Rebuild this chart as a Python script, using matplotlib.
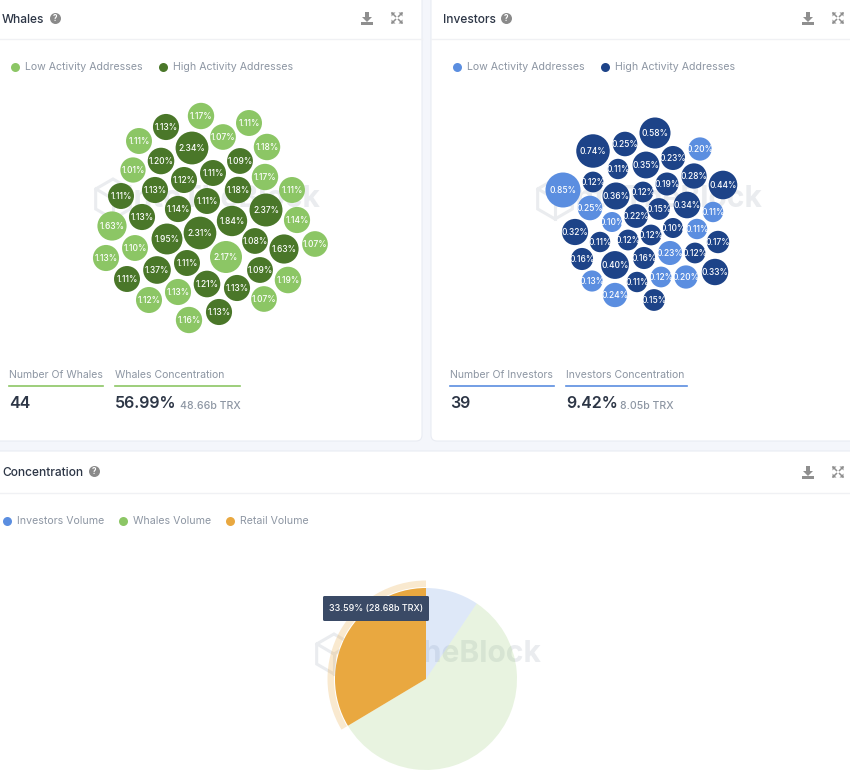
import matplotlib
matplotlib.use('Agg')
import matplotlib.pyplot as plt
import numpy as np
from matplotlib.patches import FancyBboxPatch, Wedge, Rectangle, Polygon

plt.rcParams['font.family'] = ['Inter', 'DejaVu Sans']

whale_vals = [1.17, 1.11, 1.13, 1.11, 1.07, 2.34, 1.18, 1.20, 1.09, 1.01, 1.11,
              1.12, 1.17, 1.13, 1.18, 1.11, 1.11, 1.11, 1.14, 2.37, 1.13, 1.84,
              1.14, 1.63, 2.31, 1.95, 1.08, 1.07, 1.63, 1.10, 2.17, 1.13, 1.11,
              1.37, 1.09, 1.19, 1.11, 1.21, 1.13, 1.13, 1.12, 1.07, 1.13, 1.16]
whale_high = [0, 0, 1, 0, 0, 1, 0, 1, 1, 0, 1,
              1, 0, 1, 1, 0, 1, 1, 1, 1, 1, 1,
              0, 0, 1, 1, 1, 0, 1, 0, 0, 0, 1,
              1, 1, 0, 1, 1, 0, 1, 0, 0, 1, 0]
whale_x = [201, 249, 166, 139, 223, 192, 267, 161, 240, 133, 213,
           184, 265, 155, 238, 292, 121, 207, 178, 266, 142, 232,
           297, 112, 200, 167, 255, 315, 284, 135, 226, 106, 187,
           157, 260, 288, 127, 207, 178, 237, 149, 264, 219, 189]
whale_y = [116, 123, 127, 141, 137, 148, 147, 161, 161, 170, 173,
           180, 177, 190, 190, 190, 196, 201, 209, 210, 217, 221,
           220, 226, 233, 239, 241, 244, 249, 248, 257, 258, 263,
           270, 270, 280, 279, 284, 292, 288, 300, 299, 312, 320]

inv_vals = [0.58, 0.74, 0.25, 0.20, 0.35, 0.23, 0.11, 0.28, 0.44, 0.85, 0.12,
            0.19, 0.36, 0.12, 0.34, 0.15, 0.11, 0.25, 0.22, 0.10, 0.10, 0.11,
            0.32, 0.11, 0.12, 0.12, 0.17, 0.16, 0.23, 0.12, 0.40, 0.16, 0.33,
            0.13, 0.11, 0.12, 0.20, 0.24, 0.15]
inv_high = [1, 1, 1, 0, 1, 1, 1, 1, 1, 0, 1,
            1, 1, 1, 1, 1, 0, 0, 1, 0, 1, 0,
            1, 1, 1, 1, 1, 1, 0, 1, 1, 1, 1,
            0, 1, 0, 0, 0, 1]
inv_x = [655, 593, 625, 700, 646, 673, 618, 694, 723, 563, 593,
         667, 616, 643, 687, 659, 713, 590, 636, 612, 673, 697,
         575, 600, 628, 651, 718, 582, 670, 695, 615, 644, 715,
         592, 637, 661, 686, 615, 654]
inv_y = [133, 151, 144, 149, 165, 158, 169, 176, 185, 190, 182,
         184, 196, 192, 205, 209, 212, 208, 216, 222, 228, 229,
         232, 242, 240, 235, 242, 259, 253, 253, 265, 258, 272,
         281, 282, 277, 277, 295, 300]

pie_labels = ['Investors Volume', 'Whales Volume', 'Retail Volume']
pie_vals = [9.42, 56.99, 33.59]

GREEN_L, GREEN_D = '#8cc665', '#4a7729'
BLUE_L, BLUE_D = '#5b8ee0', '#1d4388'
ORANGE = '#e9a840'
GREY = '#8d96a3'
DARK = '#2d3646'
H = 775

fig = plt.figure(figsize=(8.5, 7.75), dpi=100, facecolor='#f4f6fb')
ax = fig.add_axes([0, 0, 1, 1])
ax.set_xlim(0, 850)
ax.set_ylim(0, H)
ax.axis('off')


def px(size):
    return size * 0.72


def label(x, y, s, size, color=GREY, **kw):
    kw.setdefault('va', 'center')
    ax.text(x, H - y - 0.7, s, fontsize=px(size), color=color, **kw)


def card(x0, y0, x1, y1):
    ax.add_patch(FancyBboxPatch((x0, H - y1), x1 - x0, y1 - y0,
                                boxstyle='round,pad=0,rounding_size=6',
                                fc='white', ec='#e9ecf3', lw=0.8, zorder=1))


def help_icon(x, y):
    ax.scatter([x], [H - y], s=px(11) ** 2, color='#8a8a8a', lw=0, zorder=3)
    label(x, y, '?', 8, color='white', ha='center', weight='bold', zorder=4)


def tool_icons(x1, x2, y):
    col = '#8f8f8f'
    # download
    ax.add_patch(Rectangle((x1 - 6, H - y - 7), 12, 3, fc=col, ec='none', zorder=3))
    ax.add_patch(Polygon([(x1 - 2, H - y + 6), (x1 + 2, H - y + 6), (x1 + 2, H - y + 1),
                          (x1 + 5, H - y + 1), (x1, H - y - 4), (x1 - 5, H - y + 1),
                          (x1 - 2, H - y + 1)], fc=col, ec='none', zorder=3))
    # expand
    for sx in (-1, 1):
        for sy in (-1, 1):
            ax.plot([x2 + sx * 1.5, x2 + sx * 5], [H - y + sy * 1.5, H - y + sy * 5],
                    color=col, lw=1.1, zorder=3)
            ax.add_patch(Polygon([(x2 + sx * 5.5, H - y + sy * 5.5),
                                  (x2 + sx * 1.5, H - y + sy * 5.5),
                                  (x2 + sx * 5.5, H - y + sy * 1.5)],
                                 fc=col, ec='none', zorder=3))


def watermark(x, y, w):
    # hexagon logo plus the vendor name, sits under the marks
    col = '#eaecef'
    t = np.radians(np.arange(30, 390, 60))
    ax.add_patch(Polygon(np.c_[x + 20 * np.cos(t), H - y + 20 * np.sin(t)], closed=True,
                         fc='none', ec=col, lw=2.2, zorder=2))
    ax.plot([x - 17, x, x + 17], [H - y + 10, H - y, H - y + 10], color=col, lw=2.2, zorder=2)
    ax.plot([x, x], [H - y, H - y - 20], color=col, lw=2.2, zorder=2)
    ax.text(x + w, H - y, 'IntoTheBlock', fontsize=px(30), color=col, weight='bold',
            ha='left', va='center', zorder=2)


def bubbles(xs, ys, vals, high, light, dark, a, b):
    xs, ys, vals = np.array(xs), np.array(ys), np.array(vals)
    d = a + b * np.sqrt(vals)
    cols = [dark if h else light for h in high]
    ax.scatter(xs, H - ys, s=px(d) ** 2, c=cols, lw=0, zorder=5)
    for x, y, v in zip(xs, ys, vals):
        label(x, y, '%.2f%%' % v, 8.4, color='white', ha='center', weight='medium', zorder=6)


def stat(x0, x1, y, s, col):
    label(x0, y, s, 10.5, ha='left')
    ax.plot([x0, x1], [H - 386, H - 386], color=col, lw=1.2, zorder=3)


# cards
card(-10, -10, 422, 441)
card(431, -10, 860, 441)
card(-10, 451, 860, 790)
for x0, x1, y in [(0, 422, 39), (431, 850, 39), (0, 850, 493)]:
    ax.plot([x0, x1], [H - y, H - y], color='#f0f1f4', lw=1, zorder=2)

# titles
label(2, 19, 'Whales', 12, color=DARK, ha='left', weight='medium')
help_icon(55, 18)
tool_icons(367, 397, 18)
label(443, 19, 'Investors', 12, color=DARK, ha='left', weight='medium')
help_icon(506, 18)
tool_icons(808, 838, 18)
label(2, 472, 'Concentration', 12, color=DARK, ha='left', weight='medium')
help_icon(94, 471)
tool_icons(808, 838, 472)

# legends
for x, s, c in [(15, 'Low Activity Addresses', GREEN_L), (163, 'High Activity Addresses', GREEN_D),
                (457, 'Low Activity Addresses', BLUE_L), (605, 'High Activity Addresses', BLUE_D)]:
    ax.scatter([x], [H - 67], s=px(9) ** 2, color=c, lw=0, zorder=3)
    label(x + 10, 66, s, 10.6, ha='left')
for x, s, c in zip([7, 123, 230], pie_labels, [BLUE_L, GREEN_L, ORANGE]):
    ax.scatter([x], [H - 521], s=px(9) ** 2, color=c, lw=0, zorder=3)
    label(x + 10, 520, s, 10.6, ha='left')

# watermarks
watermark(113, 199, 12)
watermark(555, 199, 12)
watermark(334, 654, 12)

bubbles(whale_x, whale_y, whale_vals, whale_high, GREEN_L, GREEN_D, 10.8, 14.4)
bubbles(inv_x, inv_y, inv_vals, inv_high, BLUE_L, BLUE_D, 12.2, 24.75)

# stats under the bubbles
stat(9, 103, 374, 'Number Of Whales', GREEN_L)
stat(115, 240, 374, 'Whales Concentration', GREEN_L)
label(9, 403, '44', 16, color=DARK, ha='left', weight='semibold')
label(115, 403, '56.99%', 16, color=DARK, ha='left', weight='semibold')
label(180, 405, '48.66b TRX', 10.5, ha='left', weight='medium')
stat(450, 554, 374, 'Number Of Investors', BLUE_L)
stat(566, 687, 374, 'Investors Concentration', BLUE_L)
label(450, 403, '39', 16, color=DARK, ha='left', weight='semibold')
label(566, 403, '9.42%', 16, color=DARK, ha='left', weight='semibold')
label(620, 405, '8.05b TRX', 10.5, ha='left', weight='medium')

# pie, retail slice hovered
cx, cy, r = 426, H - 679, 91
wedges, _ = ax.pie(pie_vals, colors=[BLUE_L, GREEN_L, ORANGE], startangle=90, counterclock=False,
                   center=(cx, cy), radius=r, frame=True)
wedges[0].set_alpha(0.2)
wedges[1].set_alpha(0.2)
for w in wedges:
    w.set_zorder(5)
    w.set_linewidth(0)
ax.add_patch(Wedge((cx, cy), r + 7.5, wedges[2].theta1, wedges[2].theta2, width=6.5,
                   fc=ORANGE, alpha=0.25, ec='none', zorder=5))
ax.set_xlim(0, 850)
ax.set_ylim(0, H)
ax.axis('off')

# tooltip
ax.add_patch(FancyBboxPatch((323, H - 621), 106, 25, boxstyle='round,pad=0,rounding_size=1.5',
                            fc='#3a4a66', ec='none', zorder=7))
label(376, 608, '33.59% (28.68b TRX)', 9, color='white', ha='center', weight='medium', zorder=8)

fig.savefig('out.png', dpi=100, facecolor=fig.get_facecolor())
